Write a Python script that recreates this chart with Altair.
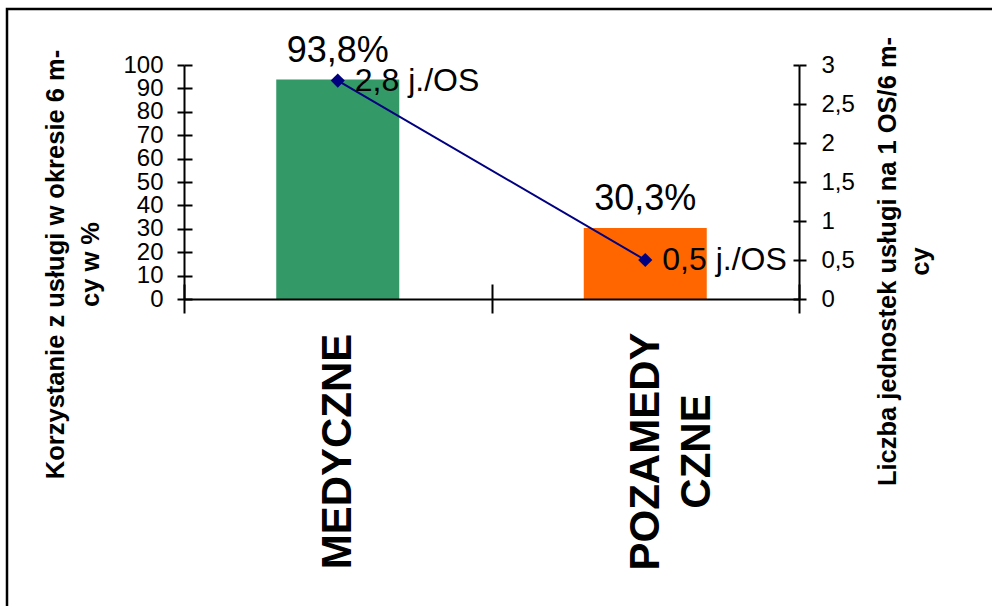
import altair as alt
import pandas as pd

categories = ["MEDYCZNE", "POZAMEDYCZNE"]
usage_pct = [93.8, 30.3]
units_per_os = [2.8, 0.5]
bar_colors = ["#339966", "#FF6600"]
line_color = "#000080"
pct_ticks = list(range(0, 101, 10))
unit_ticks = [0, 0.5, 1, 1.5, 2, 2.5, 3]
left_title = ["Korzystanie z usługi w okresie  6 m-", "cy w %"]
right_title = ["Liczba jednostek usługi na 1 OS/6 m-", "cy"]

df = pd.DataFrame({"cat": categories, "pct": usage_pct, "units": units_per_os})
df["pct_label"] = [f"{v:.1f}".replace(".", ",") + "%" for v in usage_pct]
df["unit_label"] = [f"{v:.1f}".replace(".", ",") + " j./OS" for v in units_per_os]

FONT = "Liberation Sans"
W, H = 615, 234

common_axis = dict(
    labelFont=FONT, labelColor="black", tickColor="black", tickWidth=2,
    domainColor="black", domainWidth=2, grid=True, gridColor="black",
    gridWidth=2, gridOpacity=1, labelOverlap=False,
)

x_enc = alt.X(
    "cat:N", sort=categories,
    scale=alt.Scale(paddingInner=0, paddingOuter=0),
    axis=alt.Axis(
        title=None, labelAngle=270, labelAlign="center", labelBaseline="middle",
        labelFontSize=42, labelFontWeight="bold", labelLimit=1000,
        labelPadding=138, labelLineHeight=51,
        labelExpr="datum.label == 'POZAMEDYCZNE' ? ['POZAMEDY', 'CZNE'] : datum.label",
        tickBand="extent", tickSize=14, gridDash=[0, 219, 15, 1000], zindex=1,
        **common_axis,
    ),
)

y_left = alt.Y(
    "pct:Q", scale=alt.Scale(domain=[0, 100], nice=False),
    axis=alt.Axis(
        values=pct_ticks, orient="left", title=left_title,
        labelFontSize=24, labelPadding=14, tickSize=7, gridDash=[8, 2000],
        titleFont=FONT, titleFontSize=25.5, titleFontWeight="bold", titleColor="black",
        titleAngle=270, titleAlign="center", titleBaseline="middle",
        titleLineHeight=35, titleX=-129, titleY=199,
        **common_axis,
    ),
)

y_right = alt.Y(
    "units:Q", scale=alt.Scale(domain=[0, 3], nice=False),
    axis=alt.Axis(
        values=unit_ticks, orient="right", title=right_title,
        labelExpr="replace(toString(datum.value), '.', ',')",
        labelFontSize=24, labelPadding=15, tickSize=7, gridDash=[6, 2000],
        titleFont=FONT, titleFontSize=25.5, titleFontWeight="bold", titleColor="black",
        titleAngle=270, titleAlign="center", titleBaseline="middle",
        titleLineHeight=33, titleX=88, titleY=196,
        **common_axis,
    ),
)

base_left = alt.Chart(df).encode(x=x_enc, y=y_left)
bars = base_left.mark_bar(width={"band": 0.4}).encode(
    color=alt.Color("cat:N", scale=alt.Scale(domain=categories, range=bar_colors), legend=None)
)
pct_text = base_left.mark_text(
    font=FONT, fontSize=36, baseline="alphabetic", dy=-18, color="black"
).encode(text="pct_label:N")

base_right = alt.Chart(df).encode(x=x_enc, y=y_right)
line = base_right.mark_line(color=line_color, strokeWidth=2)
points = base_right.mark_point(shape="diamond", filled=True, size=200, color=line_color, opacity=1)
unit_text = base_right.mark_text(
    font=FONT, fontSize=32, align="left", baseline="middle", dx=17, color="black"
).encode(text="unit_label:N")

frame = alt.Chart(pd.DataFrame({"f": [0]})).mark_rect(
    filled=False, stroke="black", strokeWidth=2.5
).encode(x=alt.value(-177), x2=alt.value(840), y=alt.value(-56), y2=alt.value(570))

left_layer = alt.layer(bars, pct_text)
right_layer = alt.layer(line, points, unit_text)

chart = alt.layer(frame, left_layer, right_layer).resolve_scale(y="independent").properties(
    width=W, height=H, autosize="none",
    padding={"left": 184, "top": 65, "right": 193, "bottom": 307},
).configure_view(stroke=None)

chart.save("out.html", embed_options={"renderer": "svg", "actions": False})
